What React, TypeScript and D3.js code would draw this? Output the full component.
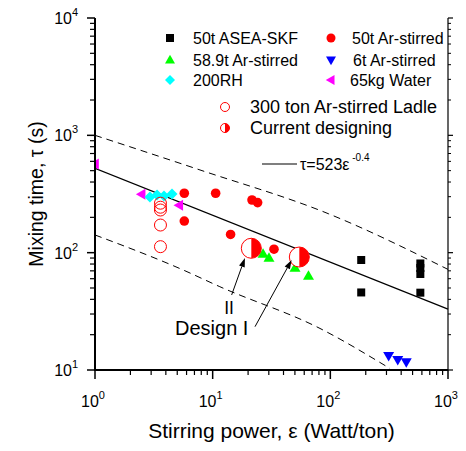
import React from "react";
import * as d3 from "d3";

// ---- data ----
const asea_eps = [183, 183, 582, 582, 582, 582];
const asea_tau = [86.6, 45.8, 80.9, 74, 65.8, 45.6];

const ar50_eps = [5.74, 10.6, 21.6, 24.1, 5.74, 14.2, 33.2];
const ar50_tau = [321, 321, 281, 267, 186, 143, 107];

const ar589_eps = [26.8, 30.1, 50.1, 65.2];
const ar589_tau = [97.5, 90.1, 74, 63.3];

const ar6_eps = [313, 374, 442];
const ar6_tau = [13.2, 12.2, 11.7];

const rh200_eps = [2.93, 3.37, 3.86, 4.51];
const rh200_tau = [298, 310, 304, 316];

const water_eps = [1.0, 2.49, 5.2];
const water_tau = [570, 314, 254];

const ladle300_eps = [3.6, 3.6, 3.6, 3.6, 3.6];
const ladle300_tau = [264, 244, 231, 172, 112.5];

const design_eps = [21.3, 54.5];
const design_tau = [109, 91.8];

const fitA = 523;
const fitB = -0.4;

const upper_eps = [1, 7.8, 96, 1000];
const upper_tau = [1000, 507, 215, 72];
const lower_eps = [1, 5.63, 11.5, 81.7, 321];
const lower_tau = [141.5, 71.1, 51.3, 22.6, 10.3];

const arrow1 = { from: [14.5, 43.6], to: [18.8, 90.2] };
const arrow2 = { from: [22.9, 23.4], to: [46.9, 86.6] };

const xDecades = [1, 10, 100, 1000];
const yDecades = [10, 100, 1000, 10000];

const FONT = "Arial, 'Liberation Sans', sans-serif";

export default function App() {
  const W = 466, H = 451;
  const L = 95, R = 448, T = 18, B = 370;
  const x = d3.scaleLog().domain([1, 1000]).range([L, R]);
  const y = d3.scaleLog().domain([10, 10000]).range([B, T]);

  const minorX: number[] = [];
  for (let d = 1; d < 1000; d *= 10) for (let k = 2; k <= 9; k++) minorX.push(d * k);
  const minorY: number[] = [];
  for (let d = 10; d < 10000; d *= 10) for (let k = 2; k <= 9; k++) minorY.push(d * k);

  const line = d3.line<[number, number]>().x(d => x(d[0])).y(d => y(d[1])).curve(d3.curveMonotoneX);
  const upper = line(upper_eps.map((e, i) => [e, upper_tau[i]] as [number, number]))!;
  const lower = line(lower_eps.map((e, i) => [e, lower_tau[i]] as [number, number]))!;
  const fitPts: [number, number][] = [1, 1000].map(e => [e, fitA * Math.pow(e, fitB)] as [number, number]);
  const fit = d3.line<[number, number]>().x(d => x(d[0])).y(d => y(d[1]))(fitPts)!;

  const sq = (cx: number, cy: number, s = 8, c = "#000", k?: any) => (
    <rect key={k} x={cx - s / 2} y={cy - s / 2} width={s} height={s} fill={c} />
  );
  const circ = (cx: number, cy: number, r = 4.7, c = "#ff0000", k?: any) => (
    <circle key={k} cx={cx} cy={cy} r={r} fill={c} />
  );
  const triUp = (cx: number, cy: number, s = 11, c = "#00ff00", k?: any) => {
    const h = s * 0.87;
    return <path key={k} d={`M${cx},${cy - h * 0.6}L${cx + s / 2},${cy + h * 0.4}L${cx - s / 2},${cy + h * 0.4}Z`} fill={c} />;
  };
  const triDown = (cx: number, cy: number, s = 11, c = "#0000ff", k?: any) => {
    const h = s * 0.87;
    return <path key={k} d={`M${cx},${cy + h * 0.6}L${cx + s / 2},${cy - h * 0.4}L${cx - s / 2},${cy - h * 0.4}Z`} fill={c} />;
  };
  const triLeft = (cx: number, cy: number, s = 11, c = "#ff00ff", k?: any) => {
    const h = s * 0.87;
    return <path key={k} d={`M${cx - h * 0.6},${cy}L${cx + h * 0.4},${cy - s / 2}L${cx + h * 0.4},${cy + s / 2}Z`} fill={c} />;
  };
  const diamond = (cx: number, cy: number, s = 6, c = "#00ffff", k?: any) => (
    <path key={k} d={`M${cx},${cy - s}L${cx + s},${cy}L${cx},${cy + s}L${cx - s},${cy}Z`} fill={c} />
  );
  const openC = (cx: number, cy: number, r = 6, k?: any) => (
    <circle key={k} cx={cx} cy={cy} r={r} fill="none" stroke="#ff0000" strokeWidth={1} />
  );
  const half = (cx: number, cy: number, r: number, k?: any) => (
    <g key={k}>
      <circle cx={cx} cy={cy} r={r} fill="#fff" stroke="#ff0000" strokeWidth={1} />
      <path d={`M${cx},${cy - r}A${r},${r} 0 0 1 ${cx},${cy + r}Z`} fill="#ff0000" />
    </g>
  );

  const arrow = (a: { from: number[]; to: number[] }, k: string) => {
    const x1 = x(a.from[0]), y1 = y(a.from[1]), x2 = x(a.to[0]), y2 = y(a.to[1]);
    const ang = Math.atan2(y2 - y1, x2 - x1);
    const len = 9, w = 3;
    const bx = x2 - len * Math.cos(ang), by = y2 - len * Math.sin(ang);
    const px = -Math.sin(ang) * w, py = Math.cos(ang) * w;
    return (
      <g key={k}>
        <line x1={x1} y1={y1} x2={bx} y2={by} stroke="#000" strokeWidth={1} />
        <path d={`M${x2},${y2}L${bx + px},${by + py}L${bx - px},${by - py}Z`} fill="#000" />
      </g>
    );
  };

  return (
    <svg width={W} height={H} style={{ position: "absolute", left: 0, top: 0 }} fontFamily={FONT}>
      <defs>
        <clipPath id="plot">
          <rect x={L} y={T} width={R - L + 2} height={B - T} />
        </clipPath>
      </defs>
      <rect width={W} height={H} fill="#fff" />

      {/* bounds & fit */}
      <g clipPath="url(#plot)">
        <path d={upper} fill="none" stroke="#000" strokeWidth={1} strokeDasharray="7,5" />
        <path d={lower} fill="none" stroke="#000" strokeWidth={1} strokeDasharray="7,5" />
        <path d={fit} fill="none" stroke="#000" strokeWidth={1.2} />
      </g>

      {/* data */}
      <g clipPath="url(#plot)">
        {asea_eps.map((e, i) => sq(x(e), y(asea_tau[i]), 8, "#000", "a" + i))}
        {ar50_eps.map((e, i) => circ(x(e), y(ar50_tau[i]), 4.8, "#ff0000", "b" + i))}
        {ar589_eps.map((e, i) => triUp(x(e), y(ar589_tau[i]), 11, "#00ff00", "c" + i))}
        {ar6_eps.map((e, i) => triDown(x(e), y(ar6_tau[i]), 11, "#0000ff", "d" + i))}
        {water_eps.map((e, i) => triLeft(x(e), y(water_tau[i]), 11, "#ff00ff", "f" + i))}
        {rh200_eps.map((e, i) => diamond(x(e), y(rh200_tau[i]), 5.5, "#00ffff", "e" + i))}
        {ladle300_eps.map((e, i) => openC(x(e), y(ladle300_tau[i]), 6, "g" + i))}
        {design_eps.map((e, i) => half(x(e), y(design_tau[i]), 10, "h" + i))}
      </g>

      {/* arrows & labels */}
      {arrow(arrow1, "ar1")}
      {arrow(arrow2, "ar2")}
      <text x={229} y={314} fontSize={17.5} textAnchor="middle">II</text>
      <text x={175} y={335} fontSize={20}>Design I</text>

      {/* axes */}
      <line x1={L} y1={T} x2={L} y2={B + 1} stroke="#000" strokeWidth={2} />
      <line x1={L - 1} y1={B} x2={R} y2={B} stroke="#000" strokeWidth={2} />
      <line x1={R} y1={T} x2={R} y2={B} stroke="#000" strokeWidth={1.2} />

      {xDecades.map((d, i) => (
        <g key={"xt" + i}>
          <line x1={x(d)} x2={x(d)} y1={B} y2={B + 9} stroke="#000" strokeWidth={1.5} />
          <text x={x(d) - 2} y={407} fontSize={16} textAnchor="middle">
            10<tspan fontSize={11} dy={-8}>{i}</tspan>
          </text>
        </g>
      ))}
      {minorX.map((d, i) => (
        <line key={"xm" + i} x1={x(d)} x2={x(d)} y1={B} y2={B + 5} stroke="#000" strokeWidth={1.2} />
      ))}
      {yDecades.map((d, i) => (
        <g key={"yt" + i}>
          <line x1={L - 8} x2={L} y1={y(d)} y2={y(d)} stroke="#000" strokeWidth={1.5} />
          <line x1={R} x2={R + 5} y1={y(d)} y2={y(d)} stroke="#000" strokeWidth={1.2} />
          <text x={72} y={y(d) + 6} fontSize={16} textAnchor="end">10</text>
          <text x={72} y={y(d) - 2} fontSize={11}>{i + 1}</text>
        </g>
      ))}
      {minorY.map((d, i) => (
        <g key={"ym" + i}>
          <line x1={L - 5} x2={L} y1={y(d)} y2={y(d)} stroke="#000" strokeWidth={1.2} />
          <line x1={R} x2={R + 3} y1={y(d)} y2={y(d)} stroke="#000" strokeWidth={1} />
        </g>
      ))}

      <text x={(L + R) / 2} y={438} fontSize={21} textAnchor="middle">
        Stirring power, ε (Watt/ton)
      </text>
      <text transform={`translate(43,${(T + B) / 2}) rotate(-90)`} fontSize={19.5} textAnchor="middle">
        Mixing time, τ (s)
      </text>

      {/* legend */}
      {sq(170, 38, 8, "#000")}
      <text x={193} y={44} fontSize={16}>50t ASEA-SKF</text>
      {circ(331, 38, 4.5, "#ff0000")}
      <text x={352} y={44} fontSize={16}>50t Ar-stirred</text>
      {triUp(170, 60, 10, "#00ff00")}
      <text x={193} y={66} fontSize={16}>58.9t Ar-stirred</text>
      {triDown(331, 60, 10, "#0000ff")}
      <text x={353} y={66} fontSize={16}>6t Ar-stirred</text>
      {diamond(170, 80, 5, "#00ffff")}
      <text x={193} y={86} fontSize={16}>200RH</text>
      {triLeft(331, 80, 10, "#ff00ff")}
      <text x={350} y={86} fontSize={16}>65kg Water</text>
      {openC(225, 107, 4.5)}
      <text x={250} y={113} fontSize={18}>300 ton Ar-stirred Ladle</text>
      {half(225, 128, 4.5)}
      <text x={250} y={134} fontSize={18}>Current designing</text>
      <line x1={262} x2={297} y1={164} y2={164} stroke="#000" strokeWidth={1.2} />
      <text x={300} y={170} fontSize={16}>
        τ=523ε<tspan fontSize={10} dy={-9}> -0.4</tspan>
      </text>
    </svg>
  );
}
